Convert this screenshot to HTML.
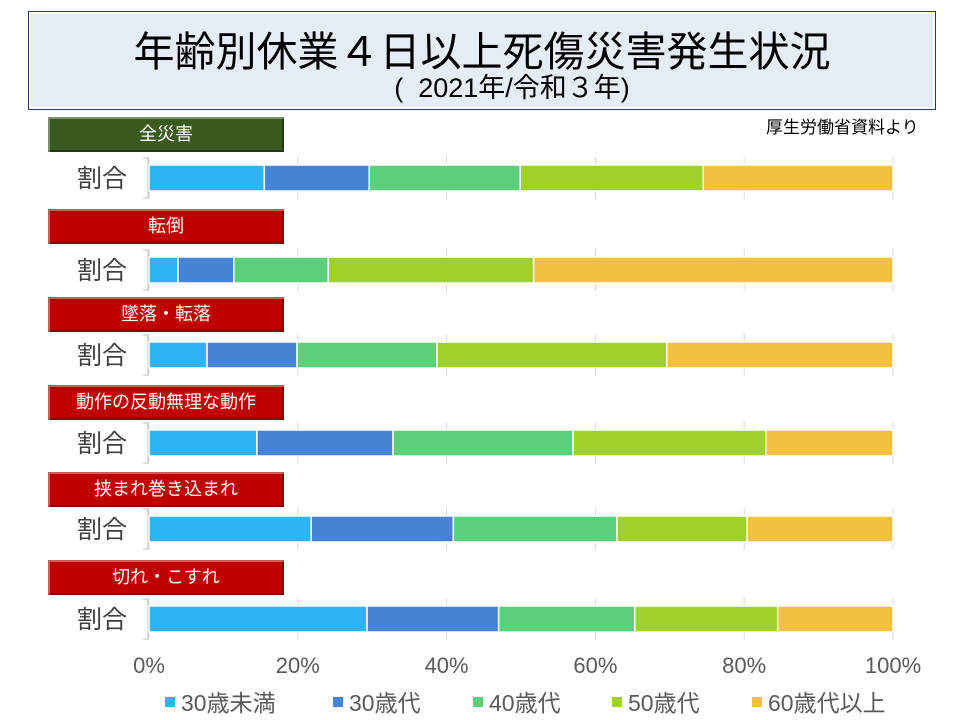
<!DOCTYPE html>
<html><head><meta charset="utf-8"><style>
body{margin:0;width:960px;height:720px;background:#fff;position:relative;overflow:hidden;font-family:"Liberation Sans","Noto Sans CJK JP",sans-serif}
.title{position:absolute;left:28px;top:11px;width:906px;height:97px;background:#e6ecf5;border:1px solid #1f3864;box-shadow:inset 0 0 0 2px #fff;text-align:center}
.t1{font-size:41px;line-height:44px;margin-top:18px;color:#000}
.t2{font-size:27px;line-height:28px;margin-left:60px;color:#000}
.lab{position:absolute;left:48px;width:236px;height:35px;color:#fff;font-size:18px;text-align:center;line-height:35px;box-shadow:inset 2px 2px 0 rgba(255,255,255,.35),inset -2px -2px 0 rgba(0,0,0,.35)}
.src{position:absolute;left:766px;top:113px;font-size:17px}
</style></head><body>
<div class="title"><div class="t1">年齢別休業４日以上死傷災害発生状況</div><div class="t2">(&nbsp; 2021年/令和３年)</div></div>
<div class="src">厚生労働省資料より</div>
<svg id="chart" width="960" height="720" style="position:absolute;left:0;top:0"></svg>
<script>
const categories=["全災害","転倒","墜落・転落","動作の反動無理な動作","挟まれ巻き込まれ","切れ・こすれ"];
const seriesNames=["30歳未満","30歳代","40歳代","50歳代","60歳代以上"];
const s30u=[15.5,3.9,7.8,14.5,21.8,29.3];
const s30=[14.1,7.5,12.1,18.3,19.1,17.7];
const s40=[20.3,12.7,18.8,24.2,22.0,18.3];
const s50=[24.6,27.6,30.9,25.9,17.5,19.2];
const s60=[25.5,48.3,30.4,17.1,19.6,15.5];
const ticks=["0%","20%","40%","60%","80%","100%"];
const tickVals=[0,20,40,60,80,100];
const colors=["#2eb4f5","#4683d4","#5ccf7a","#9fd12a","#f4c042"];
const labColors=["#3a5a20","#c00000","#c00000","#c00000","#c00000","#c00000"];
const rowsY=[165,257,342,430,516,606];
const labY=[117,209,297,385,472,560];
const x0=149,x1=893;
const X=v=>x0+(x1-x0)*v/100;
const svg=document.getElementById('chart');
const NS="http://www.w3.org/2000/svg";
function mk(t,a){const e=document.createElementNS(NS,t);for(const k in a)e.setAttribute(k,a[k]);svg.appendChild(e);return e;}
const series=[s30u,s30,s40,s50,s60];
categories.forEach((c,i)=>{
  const d=document.createElement('div');d.className='lab';d.style.top=labY[i]+'px';d.style.background=labColors[i];d.textContent=c;
  
  
  document.body.appendChild(d);
  const y=rowsY[i];
  tickVals.forEach(v=>{const g=mk('line',{x1:X(v),x2:X(v),y1:y-8,y2:y+34,stroke:'#d9d9d9','stroke-width':1});
    
    });
  const br=mk('path',{d:`M${x0-6} ${y-7}H${x0-1}V${y+33}H${x0-6}`,fill:'none',stroke:'#bfbfbf'});
  
  
  const t=mk('text',{x:127,y:y+22,'text-anchor':'end','font-size':25,fill:'#404040'});t.textContent='割合';
  
  
  let acc=0;
  series.forEach((s,j)=>{const r=mk('rect',{x:X(acc),y:y,width:X(acc+s[i])-X(acc),height:26,fill:colors[j],stroke:'#fff','stroke-width':1.5});
    
    
    acc+=s[i];});
});
tickVals.forEach((v,i)=>{const t=mk('text',{x:X(v),y:673,'text-anchor':'middle','font-size':22,fill:'#595959'});t.textContent=ticks[i];
  
  });
const legX=[165,333,473,612,752];
seriesNames.forEach((n,j)=>{
  const r=mk('rect',{x:legX[j],y:697,width:10,height:10,fill:colors[j]});
  
  
  const t=mk('text',{x:legX[j]+16,y:711,'font-size':23,fill:'#595959'});t.textContent=n;
  
  
});
</script>
</body></html>
